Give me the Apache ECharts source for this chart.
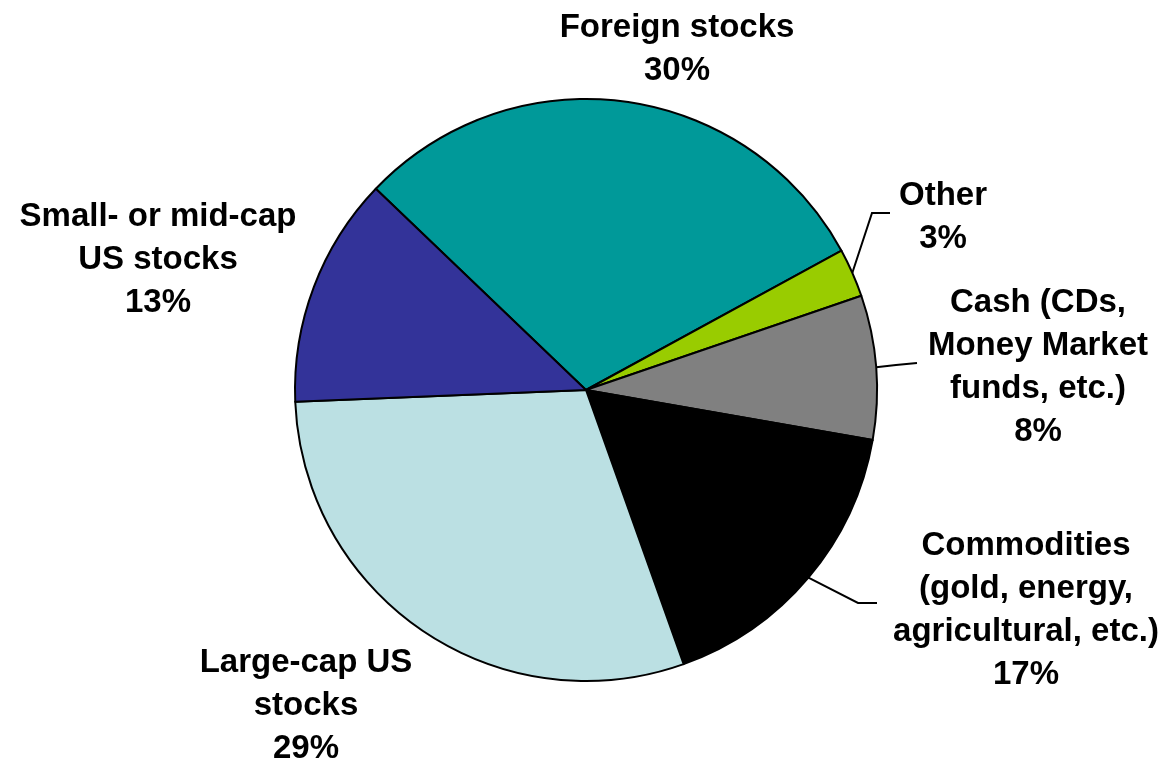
<!DOCTYPE html>
<html>
<head>
<meta charset="utf-8">
<title>Portfolio mix</title>
<script src="https://cdn.jsdelivr.net/npm/echarts@6/dist/echarts.min.js"></script>
<style>
html, body { margin: 0; padding: 0; background: #fff; }
#chart { width: 1171px; height: 765px; }
</style>
</head>
<body>
<div id="chart"></div>
<script>
// slice data, clockwise from the Foreign stocks slice
var names = ['Foreign stocks', 'Other', 'Cash (CDs,\nMoney Market\nfunds, etc.)', 'Commodities\n(gold, energy,\nagricultural, etc.)', 'Large-cap US\nstocks', 'Small- or mid-cap\nUS stocks'];
var shares = [29.9, 2.7, 8.0, 16.8, 29.8, 12.8];
var pctLabels = ['30%', '3%', '8%', '17%', '29%', '13%'];
var colors = ['#009999', '#99cc00', '#808080', '#000000', '#bbe0e3', '#333399'];

// label block centres, and leader line bend/end points for the right-hand labels
var labelSpots = [[677, 49], [943, 217], [1038, 367], [1026, 610], [306, 706], [158, 260]];
var guides = [null, [[872, 213], [890, 213]], [[896, 365], [917, 363]], [[858, 603], [877, 603]], null, null];

var myChart = echarts.init(document.getElementById('chart'));

var pieData = [];
for (var i = 0; i < names.length; i++) {
	pieData.push({
		name: names[i],
		value: shares[i],
		itemStyle: { color: colors[i] },
		labelLine: { show: !!guides[i] }
	});
}

option = {
	animation: false,
	series: [
		{
			type: 'pie',
			center: [586, 390],
			radius: 291,
			startAngle: 136.25,
			clockwise: true,
			avoidLabelOverlap: false,
			data: pieData,
			itemStyle: {
				borderColor: '#000',
				borderWidth: 2
			},
			label: {
				show: true,
				position: 'outside',
				formatter: function (p) {
					return names[p.dataIndex] + '\n' + pctLabels[p.dataIndex];
				},
				fontFamily: '"Liberation Sans", Arial, sans-serif',
				fontWeight: 'bold',
				fontSize: 33,
				lineHeight: 43,
				color: '#000',
				align: 'center'
			},
			labelLine: {
				lineStyle: { color: '#000', width: 2 }
			},
			labelLayout: function (p) {
				var s = labelSpots[p.dataIndex];
				var out = { x: s[0], y: s[1], align: 'center', verticalAlign: 'middle' };
				var g = guides[p.dataIndex];
				if (g && p.labelLinePoints) {
					out.labelLinePoints = [p.labelLinePoints[0], g[0], g[1]];
				}
				return out;
			},
			emphasis: { disabled: true }
		}
	]
};
myChart.setOption(option);
</script>
</body>
</html>
